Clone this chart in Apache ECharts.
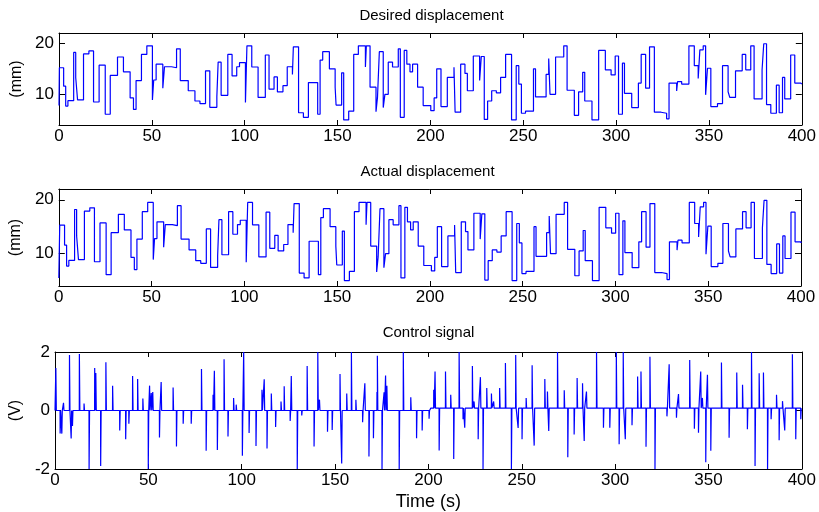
<!DOCTYPE html>
<html><head><meta charset="utf-8">
<script src="https://cdn.jsdelivr.net/npm/echarts@6/dist/echarts.min.js"></script>
<style>html,body{margin:0;padding:0;background:#fff}#c{width:819px;height:512px}</style>
</head><body><div id="c"></div>
<script>
const xTicks = [0, 400, 50];
const mmTicks = [10, 20];
const vTicks = [-2, 0, 2];
const titles = ['Desired displacement', 'Actual displacement', 'Control signal'];
const yNames = ['(mm)', '(mm)', '(V)'];
const xName = 'Time (s)';

const desired = [
[0,7.8],[0.2,15.2],[2.5,11.6],[3.6,7.7],[4.8,8.75],[7.9,18.2],[9.0,13.3],[10.0,8.9],[13.2,17.9],[16.1,18.5],[18.6,8.5],[21.6,15.7],[24.9,6.1],[27.6,13.7],[31.5,17.3],[34.7,14.4],[38.3,9.3],[40.1,7.05],[41.5,12.7],[44.4,17.8],[47.3,19.5],[50.3,8.9],[51.0,12.8],[52.3,15.9],[55.9,11.2],[56.8,15.4],[60.6,15.2],[63.3,18.9],[65.3,12.7],[69.6,10.7],[73.2,8.7],[75.9,8.2],[78.9,14.6],[81.2,7.45],[85.0,9.5],[85.7,16.3],[87.3,9.8],[90.9,17.8],[93.2,13.6],[95.7,15.4],[97.2,16.2],[100.4,8.4],[101.2,19.5],
[103.8,15.35],[107.2,9.4],[111.1,17.7],[113.1,11.0],[115.8,13.4],[117.6,10.5],[120.6,11.7],[122.9,15.4],[125.7,13.9],[126.2,19.3],[129.0,6.4],[131.6,5.5],[134.3,12.3],[139.3,6.1],[140.6,16.7],[142.0,18.35],[145.6,15.0],[148.7,11.4],[149.2,7.9],[152.2,14.2],[153.3,5.0],[156.0,6.7],[158.7,17.8],[161.2,19.5],[165.0,15.35],[165.5,19.5],[167.5,11.4],[170.7,6.6],[171.5,9.4],[172.5,18.35],[174.6,7.4],[175.5,10.0],[177.3,16.3],[179.6,15.35],[182.7,18.9],[183.8,5.5],[185.9,18.6],[187.3,15.9],[189.0,14.4],[190.4,15.9],[193.1,11.4],[196.1,7.8],[200.2,6.8],[202.0,9.3],[203.4,15.0],
[205.7,7.6],[209.1,13.3],[212.7,15.3],[213.3,6.5],[216.3,15.9],[218.6,14.1],[219.9,10.7],[223.1,17.5],[226.5,12.7],[227.4,17.4],[229.0,5.1],[230.8,8.7],[233.0,10.7],[235.5,10.3],[237.8,13.3],[240.5,17.8],[243.7,5.0],[246.2,15.6],[247.6,12.0],[249.0,6.3],[251.2,6.7],[255.5,15.0],[256.6,9.5],[262.3,13.9],[263.7,17.0],[264.4,10.0],[267.4,17.3],[271.8,19.5],[273.6,10.8],[277.5,5.9],[279.8,10.5],[282.0,14.3],[283.1,8.7],[287.0,5.0],[290.6,18.6],[294.2,14.8],[297.3,13.8],[299.5,17.5],[301.3,6.1],[303.4,16.1],[304.5,10.2],[308.4,7.4],[312.0,12.2],[313.5,17.8],[315.9,11.2],[318.0,19.3],[320.6,6.5],[324.2,6.3],[327.2,5.2],[328.5,12.2],[332.6,10.65],[333.1,12.5],[335.3,12.0],[339.2,19.5],[342.1,15.6],[344.2,13.1],[345.1,18.7],[346.9,19.5],[348.2,9.9],[349.2,15.1],[351.0,7.6],[354.6,8.2],[357.3,15.6],[360.3,10.5],[361.2,9.4],[364.3,14.6],[367.9,17.8],[369.8,14.8],[372.5,19.5],[374.3,9.1],[378.6,14.8],[379.5,19.9],[381.0,8.0],[383.3,6.3],[386.3,11.8],[387.8,6.4],[389.6,13.3],[390.8,9.1],[394.0,17.7],[396.2,12.2],[399.5,12.0],[400,12.0]
];

const actual = [
[0,5.5],[0.5,15.3],[3.1,11.6],[4.2,7.7],[5.4,8.75],[8.5,18.2],[9.6,13.3],[10.6,8.9],[13.8,17.9],[16.7,18.5],[19.2,8.5],[22.2,15.7],[25.5,6.1],[28.2,13.9],[32.1,17.3],[35.3,14.4],[38.9,9.3],[40.7,7.05],[42.1,12.7],[45.0,17.8],[47.9,19.5],[50.9,8.9],[51.6,12.8],[52.9,15.9],[56.5,11.2],[57.4,15.4],[61.2,15.2],[63.9,18.9],[65.9,12.7],[70.2,10.7],[73.8,8.7],[76.5,8.2],[79.5,14.6],[81.8,7.45],[85.6,9.5],[86.3,16.3],[87.9,9.8],[91.5,17.8],[93.8,13.6],[96.3,15.4],[97.8,16.2],[101.0,8.4],[101.8,19.5],
[104.4,15.35],[107.8,9.4],[111.7,17.7],[113.7,11.0],[116.4,13.4],[118.2,10.5],[121.2,11.7],[123.5,15.4],[126.3,13.9],[126.8,19.3],[129.6,6.4],[132.2,5.5],[134.9,12.3],[139.9,6.1],[141.2,16.7],[142.6,18.35],[146.2,15.0],[149.3,11.4],[149.8,7.9],[152.8,14.2],[153.9,5.0],[156.6,6.7],[159.3,17.8],[161.8,19.5],[165.6,15.35],[166.1,19.5],[168.1,11.4],[171.3,6.6],[172.1,9.4],[173.1,18.35],[175.2,7.4],[176.1,10.0],[177.9,16.3],[180.2,15.35],[183.3,18.9],[184.4,5.5],[186.5,18.6],[187.9,15.9],[189.6,14.4],[191.0,15.9],[193.7,11.4],[196.7,7.8],[200.8,6.8],[202.6,9.3],[204.0,15.0],
[206.3,7.6],[209.7,13.3],[213.3,15.3],[213.9,6.5],[216.9,15.9],[219.2,14.1],[220.5,10.7],[223.7,17.5],[227.1,12.7],[228.0,17.4],[229.6,5.1],[231.4,8.7],[233.6,10.7],[236.1,10.3],[238.4,13.3],[241.1,17.8],[244.3,5.0],[246.8,15.6],[248.2,12.0],[249.6,6.3],[251.8,6.7],[256.1,15.0],[257.2,9.5],[262.9,13.9],[264.3,17.0],[265.0,10.0],[268.0,17.3],[272.4,19.5],[274.2,10.8],[278.1,5.9],[280.4,10.5],[282.6,14.3],[283.7,8.7],[287.6,5.0],[291.2,18.6],[294.8,14.8],[297.9,13.8],[300.1,17.5],[301.9,6.1],[304.0,16.1],[305.1,10.2],[309.0,7.4],[312.6,12.2],[314.1,17.8],[316.5,11.2],[318.6,19.3],[321.2,6.5],[324.8,6.3],[327.8,5.2],[329.1,12.2],[333.2,10.65],[333.7,12.5],[335.9,12.0],[339.8,19.5],[342.7,15.6],[344.8,13.1],[345.7,18.7],[347.5,19.5],[348.8,9.9],[349.8,15.1],[351.6,7.6],[355.2,8.2],[357.9,15.6],[360.9,10.5],[361.8,9.4],[364.9,14.6],[368.5,17.8],[370.4,14.8],[373.1,19.5],[374.9,9.1],[379.2,14.8],[380.1,19.9],[381.6,8.0],[383.9,6.3],[386.9,11.8],[388.4,6.4],[390.2,13.3],[391.4,9.1],[394.6,17.7],[396.8,12.2],[400,12.0]
];

const controlSpikes = [
[0.4,1.45],[2.7,-0.79],[3.6,-0.79],[4.5,0.26],[7.7,1.9],[8.6,-0.96],[9.3,-0.53],[13.0,1.93],[15.5,0.24],[18.2,-2],[21.2,1.45],[21.8,1.28],[24.4,-1.9],[27.2,1.65],[30.8,0.85],[34.6,-0.68],[37.8,-0.98],[39.5,-0.45],[41.5,1.18],[44.2,1.08],[47.0,0.41],[49.9,-2],[50.6,0.85],[51.5,0.6],[52.3,0.63],[55.9,-0.92],[56.8,0.97],[63.2,0.79],[65.0,-1.23],[68.6,-0.45],[72.9,-0.45],[75.2,-0.06],[78.4,1.42],[80.9,-1.38],[84.6,0.54],[85.3,1.36],[86.9,-1.35],[90.5,1.75],[92.6,-0.89],[95.6,0.43],[97.0,0.2],[100.3,-1.55],[101.0,2],
[103.9,-0.77],[107.6,-1.21],[110.8,0.71],[112.0,1.07],[113.5,-1.3],[115.8,0.58],[118.1,-0.56],[121.0,0.31],[122.7,0.83],[125.9,-0.36],[126.5,1.18],[129.7,-2],[132.1,-0.17],[135.0,1.52],[138.7,-1.23],[140.7,2],[141.6,0.37],[145.9,-0.73],[148.4,-0.67],[152.6,1.25],[153.5,-1.81],[156.2,0.58],[158.7,2],[161.1,0.37],[164.7,-0.4],[165.9,0.93],[168.1,-1.57],[170.5,-0.95],[172.4,0.63],[172.6,1.87],[175.1,-2],[176.2,0.62],[177.0,1.2],[177.7,0.85],[180.6,0.03],[184.3,-2],[186.5,2],[190.5,0.45],[193.6,-0.95],[196.6,-0.68],[200.3,-0.28],
[202.8,0.71],[203.5,1.33],[205.7,-1.37],[209.1,1.33],[211.9,0.54],[213.5,-1.66],[216.4,2],[218.5,-0.3],[219.4,-0.59],[223.5,1.52],[224.4,0.31],[226.6,-0.98],[227.8,1.14],[229.2,-2],[231.2,0.77],[233.7,0.58],[234.9,0.31],[238.1,0.77],[241.2,1.62],[244.4,-2],[246.7,1.9],[248.0,-0.6],[250.1,-0.98],[252.3,0.43],[255.5,1.55],[256.6,-1.2],[262.3,1.08],[263.7,0.65],[264.4,-0.7],[269.1,2],[272.7,0.69],[274.6,-1.6],[278.0,-0.82],[279.6,1.11],[282.5,0.93],[283.4,-1.04],[284.6,0.65],[290.0,2],[293.7,-0.59],[297.1,-0.59],[300.6,2],
[302.1,-1.15],[304.3,2],[305.4,-0.98],[309.0,-0.5],[312.0,1.16],[313.8,1.33],[316.5,-1.24],[318.6,1.84],[321.3,-2],[327.7,-0.2],[328.9,1.58],[332.8,-0.25],[333.9,0.56],[339.9,1.73],[342.4,-0.62],[344.6,-0.76],[345.8,1.33],[346.7,0.43],[348.5,-1.77],[349.4,1.22],[351.2,-1.38],[356.9,1.64],[361.0,-0.93],[365.1,1.3],[368.2,0.88],[370.8,-0.64],[373.0,2],[374.9,-1.9],[377.1,1.27],[379.4,1.3],[381.6,-2],[383.5,-0.3],[386.4,0.54],[387.8,-1.02],[389.6,0.32],[390.8,-0.68],[394.9,1.92],[396.7,-0.98],[399.4,-0.3]
];

const controlBase = [[0, 0], [201, 0.08]];

// ---------- build ----------
const F = "'Liberation Sans', Arial, sans-serif";
const BLUE = '#0000ff';

function controlPoints() {
  const ev = [];
  controlBase.forEach(([t, v]) => ev.push({ t, k: 'b', v }));
  controlSpikes.forEach(([t, v]) => ev.push({ t, k: 's', v }));
  ev.sort((a, b) => a.t - b.t);
  let b = controlBase[0][1];
  const pts = [[0, b]];
  for (const e of ev) {
    if (e.k === 'b') { pts.push([e.t, b]); b = e.v; pts.push([e.t + 0.3, b]); }
    else { pts.push([e.t, b]); pts.push([e.t + 0.05, e.v]); pts.push([e.t + 0.3, b]); }
  }
  pts.push([xTicks[1], b]);
  return pts;
}

const grids = [
  { left: 59, top: 33, width: 745, height: 92 },
  { left: 54, top: 189, width: 747, height: 97 },
  { left: 54, top: 352, width: 749, height: 118 }
];
const yRanges = [[4, 22], [4, 22], [-2, 2]];

const xAxes = [], yAxes = [];
grids.forEach((g, i) => {
  ['bottom', 'top'].forEach(pos => {
    const main = pos === 'bottom';
    xAxes.push({
      type: 'value', gridIndex: i, position: pos, min: xTicks[0], max: xTicks[1], interval: xTicks[2],
      axisLine: { show: true, onZero: false, lineStyle: { color: '#000', width: 1 } },
      axisTick: { show: true, inside: true, length: 5, lineStyle: { color: '#000' } },
      axisLabel: { show: main, color: '#000', fontSize: 17, fontFamily: F, margin: 3 },
      splitLine: { show: false },
      name: (main && i === 2) ? xName : '', nameLocation: 'middle', nameGap: 24,
      nameTextStyle: { color: '#000', fontSize: 18, fontFamily: F }
    });
  });
  ['left', 'right'].forEach(pos => {
    const main = pos === 'left';
    const ticks = i < 2 ? mmTicks : vTicks;
    const ax = {
      type: 'value', gridIndex: i, position: pos, min: yRanges[i][0], max: yRanges[i][1],
      axisLine: { show: true, onZero: false, lineStyle: { color: '#000', width: 1 } },
      axisTick: { show: true, inside: true, length: 6, lineStyle: { color: '#000' }, customValues: ticks },
      axisLabel: { show: main, color: '#000', fontSize: 17, fontFamily: F, margin: 5, customValues: ticks },
      splitLine: { show: false },
      name: main ? yNames[i] : '', nameLocation: 'middle', nameGap: 24, nameRotate: 90,
      nameTextStyle: { color: '#000', fontSize: 16, fontFamily: F }
    };
    if (i === 2) { ax.interval = 2; }
    yAxes.push(ax);
  });
});

const titleTops = [8, 164, 325];
const option = {
  animation: false,
  backgroundColor: '#fff',
  title: titles.map((t, i) => ({
    text: t, left: grids[i].left + grids[i].width / 2, top: titleTops[i], textAlign: 'center', padding: 0,
    textStyle: { fontSize: 15, fontWeight: 'normal', fontFamily: F, color: '#000' }
  })),
  grid: grids.map(g => Object.assign({ show: false }, g)),
  xAxis: xAxes,
  yAxis: yAxes,
  series: [
    { type: 'line', xAxisIndex: 0, yAxisIndex: 0, data: desired, step: 'end', showSymbol: false, lineStyle: { color: BLUE, width: 1.2 }, clip: true },
    { type: 'line', xAxisIndex: 2, yAxisIndex: 2, data: actual, step: 'end', showSymbol: false, lineStyle: { color: BLUE, width: 1.2 }, clip: true },
    { type: 'line', xAxisIndex: 4, yAxisIndex: 4, data: controlPoints(), showSymbol: false, lineStyle: { color: BLUE, width: 1.2 }, clip: true }
  ]
};
const chart = echarts.init(document.getElementById('c'), null, { renderer: 'canvas' });
chart.setOption(option);
</script>
</body></html>
